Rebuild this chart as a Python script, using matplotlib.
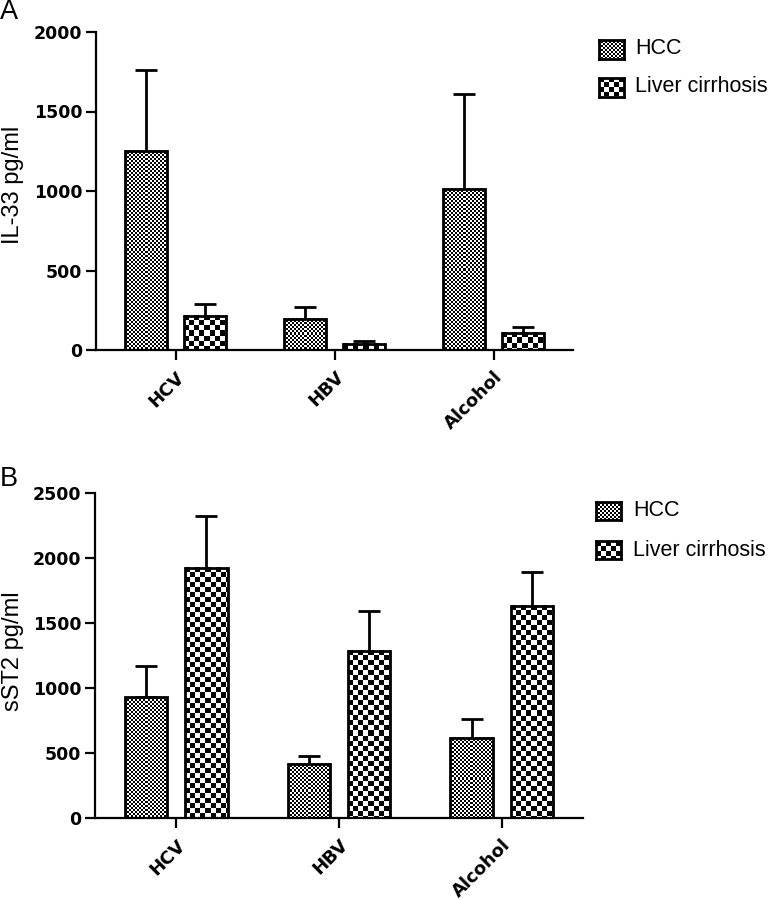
import numpy as np
import matplotlib
matplotlib.use("Agg")
import matplotlib.pyplot as plt

# ---------------- data ----------------
categories = ["HCV", "HBV", "Alcohol"]
series_names = ["HCC", "Liver cirrhosis"]

il33_hcc = [1253, 195, 1015]
il33_hcc_err = [508, 75, 595]
il33_lc = [214, 38, 109]
il33_lc_err = [77, 19, 38]

sst2_hcc = [928, 418, 618]
sst2_hcc_err = [238, 62, 145]
sst2_lc = [1925, 1287, 1633]
sst2_lc_err = [400, 305, 259]

il33_ticks = [0, 500, 1000, 1500, 2000]
sst2_ticks = [0, 500, 1000, 1500, 2000, 2500]

# ---------------- style ----------------
W, H = 769, 900
DPI = 100
YTICK_FONT = {"family": "DejaVu Sans", "weight": "bold", "size": 12.5}
XTICK_FONT = {"family": "DejaVu Sans", "weight": "bold", "size": 13}
LABEL_FONT = "Liberation Sans"
CELL = {"HCC": 2, "Liver cirrhosis": 5}

fig = plt.figure(figsize=(W / DPI, H / DPI), dpi=DPI)


def px_axes(l, r, t, b):
    return fig.add_axes([l / W, 1 - b / H, (r - l) / W, (b - t) / H])


def checker(h, w, c):
    i = np.arange(h)[:, None]
    j = np.arange(w)[None, :]
    return ((i // c + j // c) % 2).astype(float)


def panel(ax, hcc, hcc_err, lc, lc_err, ticks, ylabel, label_y_px):
    x = np.arange(len(categories))
    width, off = 0.26, 0.185
    ax.set_xlim(-0.5, 2.5)
    ax.set_ylim(0, ticks[-1])
    groups = [(x - off, hcc, hcc_err, "HCC"), (x + off, lc, lc_err, "Liver cirrhosis")]
    bars_all = []
    for xs, vals, errs, name in groups:
        ax.errorbar(xs, vals, yerr=[np.zeros(len(vals)), errs], fmt="none",
                    ecolor="black", elinewidth=2, capsize=8, capthick=2, zorder=1)
        bars = ax.bar(xs, vals, width, facecolor="none", edgecolor="black",
                      linewidth=2, zorder=3, label=name)
        bars_all.append((bars, name))
    for s in ["top", "right"]:
        ax.spines[s].set_visible(False)
    for s in ["left", "bottom"]:
        ax.spines[s].set_linewidth(1.6)
    ax.set_yticks(ticks)
    ax.set_yticklabels([str(t) for t in ticks], fontdict=YTICK_FONT)
    ax.set_xticks(x)
    ax.set_xticklabels(categories, fontdict=XTICK_FONT, rotation=45,
                       ha="right", rotation_mode="anchor")
    ax.tick_params(axis="both", direction="out", length=7, width=1.6, pad=3)
    ax.tick_params(axis="x", pad=6)
    ax.set_ylabel(ylabel, family=LABEL_FONT, fontsize=17)
    ax.yaxis.set_label_coords(24 / W, 1 - label_y_px / H, transform=fig.transFigure)
    return bars_all


def fill_checker(ax, bars_all):
    fig.canvas.draw()
    for bars, name in bars_all:
        for b in bars:
            ext = b.get_window_extent()
            w = max(int(round(ext.width)), 1)
            h = max(int(round(ext.height)), 1)
            img = checker(h, w, CELL[name])
            x0 = b.get_x()
            ax.imshow(img, extent=(x0, x0 + b.get_width(), 0, b.get_height()),
                      cmap="gray", vmin=0, vmax=1, interpolation="nearest",
                      aspect="auto", zorder=2)
    ax.set_xlim(-0.5, 2.5)


def legend(y_px_list, x0, sw_w, sw_h, text_x):
    for (yc, name) in zip(y_px_list, series_names):
        sax = px_axes(x0, x0 + sw_w, yc - sw_h / 2, yc + sw_h / 2)
        sax.imshow(checker(int(sw_h), int(sw_w), CELL[name]), cmap="gray",
                   vmin=0, vmax=1, interpolation="nearest", aspect="auto")
        sax.set_xticks([])
        sax.set_yticks([])
        for s in sax.spines.values():
            s.set_linewidth(2)
        fig.text(text_x / W, 1 - yc / H, name, family=LABEL_FONT, fontsize=15.5,
                 ha="left", va="center")


axA = px_axes(96, 573, 32, 350)
barsA = panel(axA, il33_hcc, il33_hcc_err, il33_lc, il33_lc_err, il33_ticks,
              "IL-33 pg/ml", 185)
axB = px_axes(95, 583, 493, 818)
barsB = panel(axB, sst2_hcc, sst2_hcc_err, sst2_lc, sst2_lc_err, sst2_ticks,
              "sST2 pg/ml", 651)

fill_checker(axA, barsA)
fill_checker(axB, barsB)

legend([49, 87], 599, 25, 19, 635)
legend([511, 550], 596, 25, 18, 633)

fig.text(0 / W, 1 - 12 / H, "A", family=LABEL_FONT, fontsize=19.5, ha="left", va="center")
fig.text(0 / W, 1 - 479 / H, "B", family=LABEL_FONT, fontsize=19.5, ha="left", va="center")

fig.savefig("out.png", dpi=DPI, facecolor="white")
